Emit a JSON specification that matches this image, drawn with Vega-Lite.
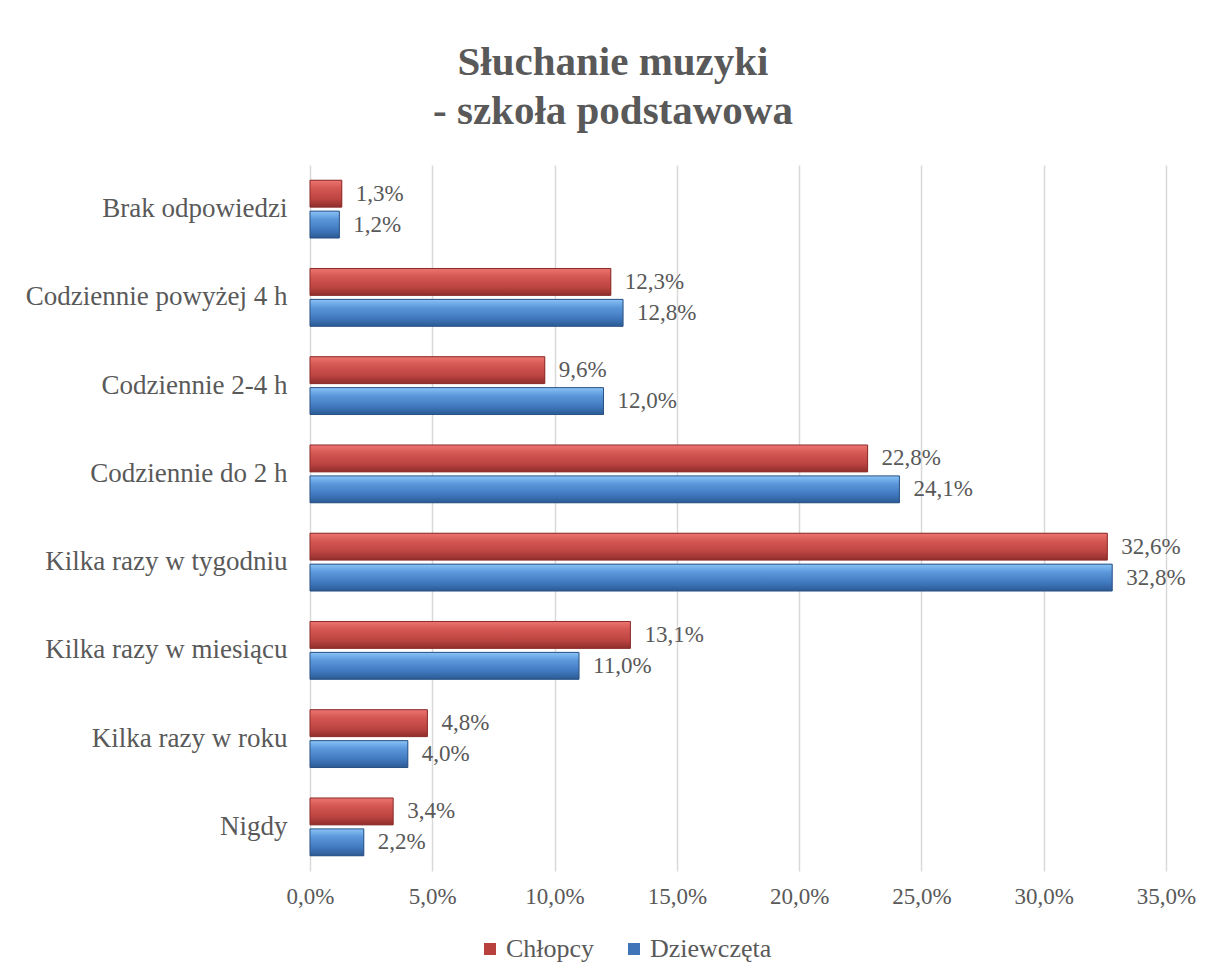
{
  "$schema": "https://vega.github.io/schema/vega-lite/v6.json",
  "autosize": {"type": "none"},
  "width": 856,
  "height": 706,
  "padding": {"left": 310, "top": 165, "right": 43, "bottom": 109},
  "background": "white",
  "config": {
    "locale": {"number": {"decimal": ",", "thousands": " ", "grouping": [3], "currency": ["", " zł"]}},
    "view": {"stroke": null},
    "font": "Liberation Serif, serif",
    "text": {"font": "Liberation Serif, serif"},
    "axis": {"labelFont": "Liberation Serif, serif"},
    "legend": {"labelFont": "Liberation Serif, serif"}
  },
  "title": {
    "text": ["Słuchanie muzyki", "- szkoła podstawowa"],
    "font": "Liberation Serif, serif",
    "fontSize": 41,
    "fontWeight": "bold",
    "color": "#595959",
    "anchor": "middle",
    "dx": -125,
    "lineHeight": 49,
    "offset": 32
  },
  "data": {
    "values": [
      {"kategoria": "Brak odpowiedzi", "plec": "Chłopcy", "wartosc": 0.013},
      {"kategoria": "Brak odpowiedzi", "plec": "Dziewczęta", "wartosc": 0.012},
      {"kategoria": "Codziennie powyżej 4 h", "plec": "Chłopcy", "wartosc": 0.123},
      {"kategoria": "Codziennie powyżej 4 h", "plec": "Dziewczęta", "wartosc": 0.128},
      {"kategoria": "Codziennie 2-4 h", "plec": "Chłopcy", "wartosc": 0.096},
      {"kategoria": "Codziennie 2-4 h", "plec": "Dziewczęta", "wartosc": 0.120},
      {"kategoria": "Codziennie do 2 h", "plec": "Chłopcy", "wartosc": 0.228},
      {"kategoria": "Codziennie do 2 h", "plec": "Dziewczęta", "wartosc": 0.241},
      {"kategoria": "Kilka razy w tygodniu", "plec": "Chłopcy", "wartosc": 0.326},
      {"kategoria": "Kilka razy w tygodniu", "plec": "Dziewczęta", "wartosc": 0.328},
      {"kategoria": "Kilka razy w miesiącu", "plec": "Chłopcy", "wartosc": 0.131},
      {"kategoria": "Kilka razy w miesiącu", "plec": "Dziewczęta", "wartosc": 0.110},
      {"kategoria": "Kilka razy w roku", "plec": "Chłopcy", "wartosc": 0.048},
      {"kategoria": "Kilka razy w roku", "plec": "Dziewczęta", "wartosc": 0.040},
      {"kategoria": "Nigdy", "plec": "Chłopcy", "wartosc": 0.034},
      {"kategoria": "Nigdy", "plec": "Dziewczęta", "wartosc": 0.022}
    ]
  },
  "encoding": {
    "y": {
      "field": "kategoria",
      "type": "nominal",
      "sort": ["Brak odpowiedzi", "Codziennie powyżej 4 h", "Codziennie 2-4 h", "Codziennie do 2 h", "Kilka razy w tygodniu", "Kilka razy w miesiącu", "Kilka razy w roku", "Nigdy"],
      "scale": {"paddingInner": 0.345, "paddingOuter": 0.1725},
      "axis": {
        "title": null,
        "domain": false,
        "ticks": false,
        "grid": false,
        "labelFont": "Liberation Serif, serif",
        "labelFontSize": 27,
        "labelColor": "#595959",
        "labelPadding": 23,
        "labelLimit": 400
      }
    },
    "yOffset": {
      "field": "plec",
      "type": "nominal",
      "sort": ["Chłopcy", "Dziewczęta"],
      "scale": {"domain": ["Chłopcy", "Dziewczęta"], "paddingInner": 0.13, "paddingOuter": 0}
    },
    "x": {
      "field": "wartosc",
      "type": "quantitative",
      "scale": {"domain": [0, 0.35], "nice": false, "zero": true},
      "axis": {
        "title": null,
        "values": [0, 0.05, 0.1, 0.15, 0.2, 0.25, 0.3, 0.35],
        "format": ".1%",
        "domain": false,
        "ticks": false,
        "grid": true,
        "gridColor": "#D9D9D9",
        "gridWidth": 1.5,
        "labelFlush": false,
        "labelOverlap": false,
        "labelFont": "Liberation Serif, serif",
        "labelFontSize": 23,
        "labelColor": "#595959",
        "labelPadding": 14
      }
    }
  },
  "layer": [
    {
      "mark": {"type": "bar"},
      "encoding": {
        "color": {
          "field": "plec",
          "type": "nominal",
          "scale": {"domain": ["Chłopcy", "Dziewczęta"], "range": ["#B8403D", "#3F74B8"]},
          "legend": {
            "title": null,
            "orient": "none",
            "direction": "horizontal",
            "legendX": 167,
            "legendY": 771,
            "symbolType": "square",
            "symbolSize": 144,
            "symbolStrokeWidth": 0,
            "labelFont": "Liberation Serif, serif",
            "labelFontSize": 26,
            "labelColor": "#595959",
            "labelOffset": 3,
            "columnPadding": 26
          }
        }
      }
    },
    {
      "transform": [{"filter": "datum.plec === 'Chłopcy'"}],
      "mark": {
        "type": "bar",
        "stroke": "#8B2C2A",
        "strokeWidth": 1,
        "fill": {
          "gradient": "linear", "x1": 0, "y1": 0, "x2": 0, "y2": 1,
          "stops": [
            {"offset": 0, "color": "#EC7571"},
            {"offset": 0.3, "color": "#D45753"},
            {"offset": 0.7, "color": "#BC4441"},
            {"offset": 1, "color": "#8E2E2C"}
          ]
        }
      }
    },
    {
      "transform": [{"filter": "datum.plec === 'Dziewczęta'"}],
      "mark": {
        "type": "bar",
        "stroke": "#2A5284",
        "strokeWidth": 1,
        "fill": {
          "gradient": "linear", "x1": 0, "y1": 0, "x2": 0, "y2": 1,
          "stops": [
            {"offset": 0, "color": "#8AC3F7"},
            {"offset": 0.3, "color": "#5B97DB"},
            {"offset": 0.7, "color": "#4078BE"},
            {"offset": 1, "color": "#2C5A93"}
          ]
        }
      }
    },
    {
      "mark": {
        "type": "text",
        "align": "left",
        "baseline": "middle",
        "dx": 14,
        "font": "Liberation Serif, serif",
        "fontSize": 23,
        "color": "#595959"
      },
      "encoding": {
        "text": {"field": "wartosc", "type": "quantitative", "format": ".1%"}
      }
    }
  ]
}
